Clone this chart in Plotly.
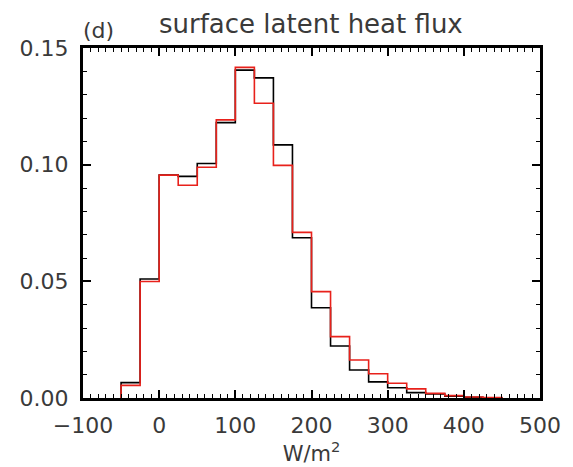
import plotly.graph_objects as go

# bin edges (W/m^2) and normalized frequencies
bin_edges = [-50, -25, 0, 25, 50, 75, 100, 125, 150, 175, 200, 225, 250, 275, 300, 325, 350, 375, 400, 425, 450]
black_vals = [0.0066, 0.0510, 0.0955, 0.0950, 0.1005, 0.1180, 0.1405, 0.1372, 0.1085, 0.0687, 0.0387, 0.0223, 0.0120, 0.0069, 0.0044, 0.0023, 0.0017, 0.0008, 0.0003, 0.0001]
red_vals = [0.0054, 0.0499, 0.0955, 0.0912, 0.0989, 0.1192, 0.1417, 0.1263, 0.0997, 0.0710, 0.0456, 0.0263, 0.0163, 0.0104, 0.0063, 0.0039, 0.0020, 0.0010, 0.0004, 0.0002]

x_ticks = [-100, 0, 100, 200, 300, 400, 500]
x_ticklabels = ["\u2212100", "0", "100", "200", "300", "400", "500"]
y_ticks = [0.0, 0.05, 0.10, 0.15]
y_ticklabels = ["0.00", "0.05", "0.10", "0.15"]


def step_xy(edges, vals):
    xs = [edges[0]] + list(edges)
    ys = [0] + list(vals) + [0]
    return xs, ys


fig = go.Figure()
bx, by = step_xy(bin_edges, black_vals)
rx, ry = step_xy(bin_edges, red_vals)
fig.add_trace(go.Scatter(x=bx, y=by, mode="lines", line=dict(color="black", width=1.6, shape="hv"), showlegend=False))
fig.add_trace(go.Scatter(x=rx, y=ry, mode="lines", line=dict(color="#e8211b", width=1.6, shape="hv"), showlegend=False))

font_family = "DejaVu Sans"
text_color = "#3a3a3a"
tick_font = dict(family=font_family, size=22, color=text_color)

axis_common = dict(
    showgrid=False, zeroline=False,
    showline=True, linecolor="black", linewidth=3, mirror="allticks",
    ticks="inside", ticklen=8, tickwidth=1.6, tickcolor="black",
    tickfont=tick_font,
)

fig.update_xaxes(
    range=[-100, 500], tickvals=x_ticks, ticktext=x_ticklabels,
    minor=dict(dtick=10, ticks="inside", ticklen=4, tickwidth=1.3, tickcolor="black"),
    ticklabelstandoff=6,
    title=dict(text="W/m<sup>2</sup>", font=dict(family=font_family, size=21, color=text_color), standoff=0),
    **axis_common,
)
fig.update_yaxes(
    range=[0, 0.15], tickvals=y_ticks, ticktext=y_ticklabels,
    minor=dict(dtick=0.01, ticks="inside", ticklen=4, tickwidth=1.3, tickcolor="black"),
    ticklabelstandoff=7,
    **axis_common,
)

fig.add_annotation(text="(d)", xref="paper", yref="paper", x=0.034, y=1.051, xanchor="center", yanchor="middle",
                   showarrow=False, font=dict(family=font_family, size=22, color=text_color))
fig.add_annotation(text="surface latent heat flux", xref="paper", yref="paper", x=0.499, y=1.0686,
                   xanchor="center", yanchor="middle", showarrow=False,
                   font=dict(family=font_family, size=26, color=text_color))

fig.update_layout(
    width=565, height=459,
    margin=dict(l=74, r=26, t=40, b=69),
    plot_bgcolor="white", paper_bgcolor="white",
)

fig.write_html("out.html")
